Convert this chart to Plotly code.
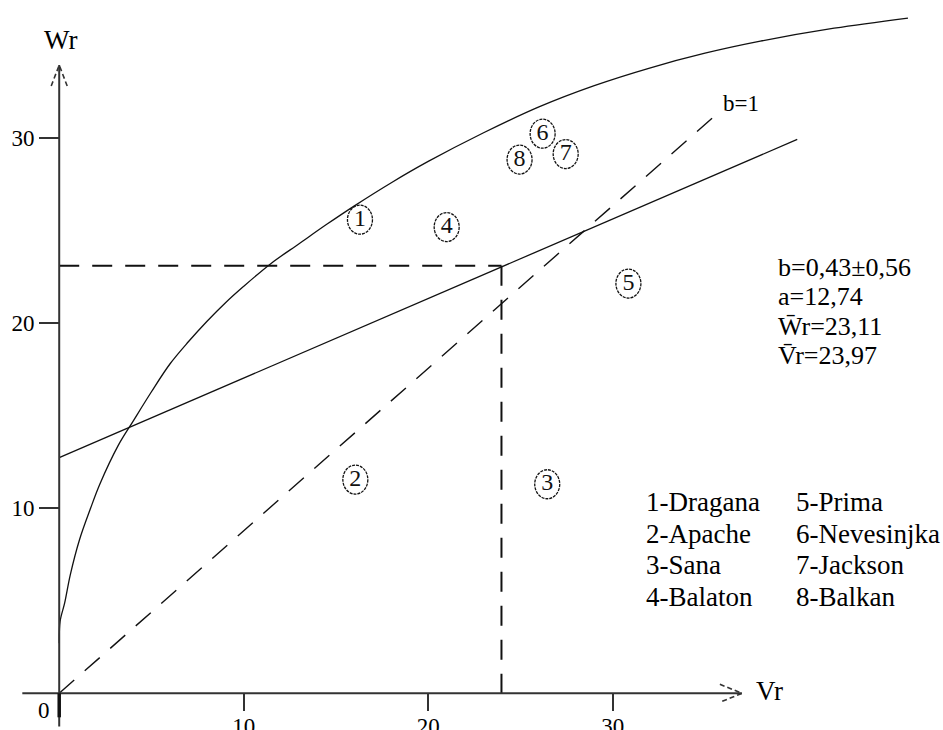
import plotly.graph_objects as go

# Genotypes: number, name, variance (Vr) and covariance (Wr)
genotype_no = [1, 2, 3, 4, 5, 6, 7, 8]
genotype_names = ["Dragana", "Apache", "Sana", "Balaton", "Prima", "Nevesinjka", "Jackson", "Balkan"]
vr = [16.3, 16.05, 26.45, 21.0, 30.85, 26.2, 27.45, 24.95]
wr = [25.6, 11.55, 11.3, 25.2, 22.15, 30.25, 29.15, 28.85]

# Regression Wr = a + b*Vr and the array means
reg_a = 12.74
reg_b = 0.43
reg_b_err = 0.56
vr_mean = 23.97
wr_mean = 23.11
reg_end = 40.0

# Limiting parabola
curve_vr = [0.0, 0.05, 0.3, 0.6, 1.1, 1.7, 2.2, 3.2, 4.0, 5.0, 6.0, 7.0, 8.0, 9.0, 10.0,
            11.5, 13.0, 14.5, 16.0, 18.0, 20.0, 23.0, 26.0, 29.0, 32.0, 35.0, 38.0, 42.0, 46.0]
curve_wr = [2.7, 3.9, 4.9, 6.4, 8.3, 10.0, 11.3, 13.4, 14.7, 16.3, 17.8, 19.0, 20.1, 21.1,
            22.0, 23.25, 24.3, 25.35, 26.35, 27.6, 28.75, 30.3, 31.7, 32.85, 33.8, 34.6,
            35.25, 35.95, 36.5]

# Line labelled b=1
unit_vr = [0.0, 35.4]
unit_wr = [0.0, 31.1]

x_ticks = [10, 20, 30]
y_ticks = [10, 20, 30]

W, H = 943, 730
X_RANGE = [-3.209, 47.90]
Y_RANGE = [-1.984, 37.476]
AX_X_MIN, AX_X_MAX = -2.0, 37.0
AX_Y_MIN, AX_Y_MAX = -1.8, 33.96

FONT = "Liberation Serif, 'Times New Roman', Times, 'DejaVu Serif', serif"
INK = "#111111"
AXC = "#333333"
BAR = "\u0304"  # combining bar for mean symbols


def px(x):
    return x / W


def py(y):
    return 1 - y / H


def comma(v):
    return f"{v:.2f}".replace(".", ",")


fig = go.Figure()

# limiting curve
fig.add_trace(go.Scatter(x=curve_vr, y=curve_wr, mode="lines",
                         line=dict(color=INK, width=1.3, shape="spline", smoothing=1.0),
                         hoverinfo="skip"))

# regression line
reg_x = [0.0, reg_end]
reg_y = [reg_a + reg_b * v for v in reg_x]
fig.add_trace(go.Scatter(x=reg_x, y=reg_y, mode="lines",
                         line=dict(color=INK, width=1.3), hoverinfo="skip"))

# b=1 line
fig.add_trace(go.Scatter(x=unit_vr, y=unit_wr, mode="lines",
                         line=dict(color=INK, width=1.4, dash="20px,14px"), hoverinfo="skip"))

# mean reference lines
fig.add_trace(go.Scatter(x=[0, vr_mean], y=[wr_mean, wr_mean], mode="lines",
                         line=dict(color=INK, width=2, dash="20px,13px"), hoverinfo="skip"))
fig.add_trace(go.Scatter(x=[vr_mean, vr_mean], y=[wr_mean, 0], mode="lines",
                         line=dict(color=INK, width=2, dash="20px,14px"), hoverinfo="skip"))

# genotype numbers
fig.add_trace(go.Scatter(x=vr, y=wr, mode="text", text=[str(n) for n in genotype_no],
                         textposition="middle center",
                         textfont=dict(family=FONT, size=24, color=INK),
                         hoverinfo="skip"))

shapes = []
# ellipses around genotype numbers
for v, w in zip(vr, wr):
    shapes.append(dict(type="circle", xref="x", yref="y",
                       xsizemode="pixel", ysizemode="pixel", xanchor=v, yanchor=w,
                       x0=-12.5, x1=12.5, y0=-14.5, y1=14.5,
                       line=dict(color=INK, width=1.3, dash="3px,1px")))

# axes
shapes.append(dict(type="line", xref="x", yref="y", x0=AX_X_MIN, x1=AX_X_MAX, y0=0, y1=0,
                   line=dict(color=AXC, width=2)))
shapes.append(dict(type="line", xref="x", yref="y", x0=0, x1=0, y0=AX_Y_MIN, y1=AX_Y_MAX,
                   line=dict(color=AXC, width=2)))
# arrow heads
shapes.append(dict(type="path", xref="x", yref="y", xsizemode="pixel", ysizemode="pixel",
                   xanchor=0, yanchor=AX_Y_MAX, path="M-8,-21 L0,0 L8,-21",
                   line=dict(color=AXC, width=1.6, dash="5px,3px")))
shapes.append(dict(type="path", xref="x", yref="y", xsizemode="pixel", ysizemode="pixel",
                   xanchor=AX_X_MAX, yanchor=0, path="M-22,9 L0,0 L-22,-9",
                   line=dict(color=AXC, width=1.6, dash="5px,3px")))
# origin mark
shapes.append(dict(type="line", xref="x", yref="y", xsizemode="pixel", ysizemode="pixel",
                   xanchor=0, yanchor=0, x0=0, x1=0, y0=0, y1=-24,
                   line=dict(color=INK, width=3.5)))

annotations = []


def label(text, x, y, size, xanchor="left"):
    annotations.append(dict(text=text, x=px(x), y=py(y), xref="paper", yref="paper",
                            xanchor=xanchor, yanchor="middle", showarrow=False,
                            font=dict(family=FONT, size=size, color="black")))


label("Wr", 60.8, 40, 27, "center")
label("Vr", 754, 691, 27)
label("0", 43.5, 710, 23, "center")
label("b=1", 721, 103, 23)

# statistics
label(f"b={comma(reg_b)}±{comma(reg_b_err)}", 776, 267, 26)
label(f"a={comma(reg_a)}", 776, 296.5, 26)
label(f"W{BAR}r={comma(wr_mean)}", 776, 326, 26)
label(f"V{BAR}r={comma(vr_mean)}", 776, 355.5, 26)

# genotype key in two columns
for i, (n, name) in enumerate(zip(genotype_no, genotype_names)):
    col, row = divmod(i, 4)
    label(f"{n}-{name}", 644 + col * 150, 502 + row * 31.7, 27)

fig.update_layout(
    width=W, height=H,
    margin=dict(l=0, r=0, t=0, b=0),
    paper_bgcolor="white", plot_bgcolor="white",
    showlegend=False, hovermode=False,
    shapes=shapes, annotations=annotations,
    font=dict(family=FONT),
    xaxis=dict(range=X_RANGE, showgrid=False, zeroline=False, showline=False,
               tickvals=x_ticks, ticktext=[str(t) for t in x_ticks],
               ticks="outside", ticklen=17, tickwidth=2, tickcolor=AXC,
               ticklabelstandoff=-5,
               tickfont=dict(family=FONT, size=23, color="black"),
               anchor="free", position=(H - 693.3) / H, automargin=False, fixedrange=True),
    yaxis=dict(range=Y_RANGE, showgrid=False, zeroline=False, showline=False,
               tickvals=y_ticks, ticktext=[str(t) for t in y_ticks],
               ticks="outside", ticklen=20, tickwidth=2, tickcolor=AXC,
               tickfont=dict(family=FONT, size=23, color="black"),
               anchor="free", position=59.2 / W, automargin=False, fixedrange=True),
)

fig.write_html("out.html")
